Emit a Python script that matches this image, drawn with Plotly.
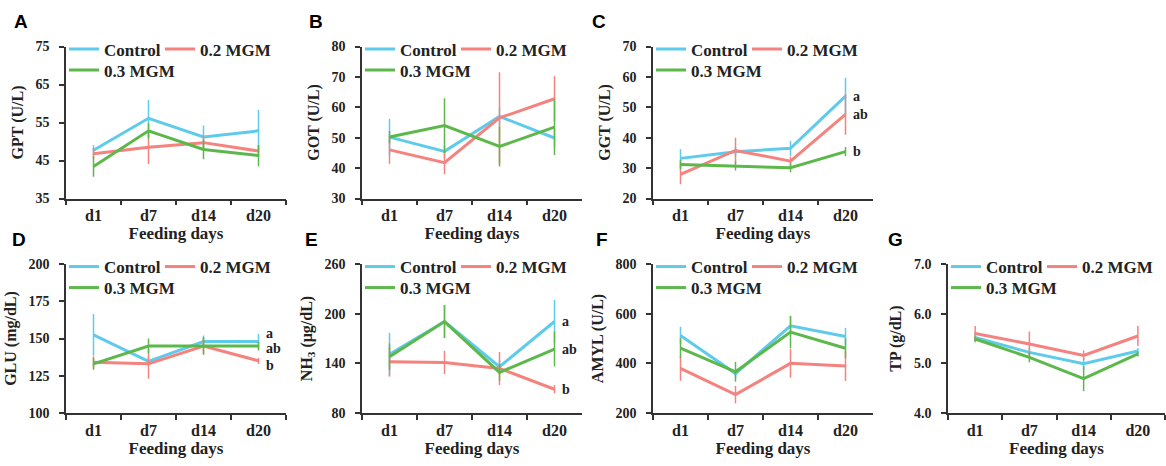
import plotly.graph_objects as go

W, H = 1166, 466

days = ["d1", "d7", "d14", "d20"]
group_names = ["Control", "0.2 MGM", "0.3 MGM"]
colors = ["#5ECBEA", "#F4827E", "#5DB84B"]

# GPT (U/L)
gpt_ctrl = [47.7, 56.1, 51.2, 52.8]
gpt_ctrl_err = [1.3, 4.8, 3.0, 5.5]
gpt_02 = [46.8, 48.5, 49.7, 47.5]
gpt_02_err = [1.5, 4.4, 2.0, 1.5]
gpt_03 = [43.4, 52.8, 47.9, 46.3]
gpt_03_err = [2.7, 2.0, 2.6, 2.8]

# GOT (U/L)
got_ctrl = [50.2, 45.5, 57.0, 49.9]
got_ctrl_err = [6.0, 2.0, 3.0, 3.0]
got_02 = [46.0, 41.8, 56.5, 62.8]
got_02_err = [4.6, 3.8, 15.0, 7.4]
got_03 = [50.2, 54.0, 47.1, 53.5]
got_03_err = [2.0, 9.0, 6.6, 9.2]

# GGT (U/L)
ggt_ctrl = [33.2, 35.4, 36.5, 53.7]
ggt_ctrl_err = [3.0, 1.5, 2.5, 6.0]
ggt_02 = [27.9, 35.8, 32.3, 47.7]
ggt_02_err = [3.2, 4.2, 1.5, 6.7]
ggt_03 = [31.2, 30.7, 30.1, 35.4]
ggt_03_err = [1.5, 1.5, 1.5, 1.5]

# GLU (mg/dL)
glu_ctrl = [152.4, 134.7, 148.0, 148.0]
glu_ctrl_err = [14.0, 3.0, 4.0, 5.0]
glu_02 = [134.0, 133.0, 145.0, 135.0]
glu_02_err = [4.0, 10.0, 5.0, 2.0]
glu_03 = [133.0, 145.0, 145.0, 145.0]
glu_03_err = [4.0, 5.0, 6.0, 3.0]

# NH3 (ug/dL)
nh3_ctrl = [150.9, 190.5, 135.9, 190.5]
nh3_ctrl_err = [26.0, 20.0, 8.0, 26.0]
nh3_02 = [142.0, 141.0, 133.8, 108.7]
nh3_02_err = [18.0, 14.0, 20.0, 5.0]
nh3_03 = [148.0, 190.5, 129.0, 157.3]
nh3_03_err = [16.0, 20.0, 10.0, 21.0]

# AMYL (U/L)
amyl_ctrl = [512, 359, 551, 508]
amyl_ctrl_err = [35, 20, 40, 35]
amyl_02 = [380, 274, 400, 389]
amyl_02_err = [50, 35, 58, 60]
amyl_03 = [461, 366, 526, 461]
amyl_03_err = [40, 40, 65, 40]

# TP (g/dL)
tp_ctrl = [5.52, 5.22, 4.99, 5.25]
tp_ctrl_err = [0.10, 0.10, 0.12, 0.06]
tp_02 = [5.60, 5.39, 5.16, 5.55]
tp_02_err = [0.15, 0.25, 0.10, 0.20]
tp_03 = [5.49, 5.12, 4.69, 5.19]
tp_03_err = [0.05, 0.10, 0.25, 0.05]

# significance letters at d20, per group (Control, 0.2 MGM, 0.3 MGM)
ggt_sig = ["a", "ab", "b"]
glu_sig = ["a", "b", "ab"]
nh3_sig = ["a", "b", "ab"]

panels = [
    dict(letter="A", title="GPT (U/L)", rng=[35, 75], dtick=10, fmt="",
         series=[(gpt_ctrl, gpt_ctrl_err), (gpt_02, gpt_02_err), (gpt_03, gpt_03_err)], sig=None),
    dict(letter="B", title="GOT (U/L)", rng=[30, 80], dtick=10, fmt="",
         series=[(got_ctrl, got_ctrl_err), (got_02, got_02_err), (got_03, got_03_err)], sig=None),
    dict(letter="C", title="GGT (U/L)", rng=[20, 70], dtick=10, fmt="",
         series=[(ggt_ctrl, ggt_ctrl_err), (ggt_02, ggt_02_err), (ggt_03, ggt_03_err)],
         sig=ggt_sig, sig_shift=[0, 0, 0]),
    dict(letter="D", title="GLU (mg/dL)", rng=[100, 200], dtick=25, fmt="",
         series=[(glu_ctrl, glu_ctrl_err), (glu_02, glu_02_err), (glu_03, glu_03_err)],
         sig=glu_sig, sig_shift=[8, -5, -3]),
    dict(letter="E", title="NH<sub>3</sub> (μg/dL)", rng=[80, 260], dtick=60, fmt="",
         series=[(nh3_ctrl, nh3_ctrl_err), (nh3_02, nh3_02_err), (nh3_03, nh3_03_err)],
         sig=nh3_sig, sig_shift=[0, 0, 0]),
    dict(letter="F", title="AMYL (U/L)", rng=[200, 800], dtick=200, fmt="",
         series=[(amyl_ctrl, amyl_ctrl_err), (amyl_02, amyl_02_err), (amyl_03, amyl_03_err)], sig=None),
    dict(letter="G", title="TP (g/dL)", rng=[4.0, 7.0], dtick=1, fmt=".1f",
         series=[(tp_ctrl, tp_ctrl_err), (tp_02, tp_02_err), (tp_03, tp_03_err)], sig=None),
]

# layout geometry (pixels)
col_px = [(66, 286), (362, 582), (653, 873), (948, 1165)]
row_px = [(46.5, 198.5), (264, 413)]
cells = [(0, 0), (0, 1), (0, 2), (1, 0), (1, 1), (1, 2), (1, 3)]
letter_px = [(21, 22), (316, 21), (599, 21), (19, 239), (311, 239), (602, 239), (895, 239)]

SERIF = "Liberation Serif, Times New Roman, serif"
SANS = "Liberation Sans, Arial, sans-serif"

fig = go.Figure()
layout = dict(
    width=W, height=H,
    margin=dict(l=0, r=0, t=0, b=0, autoexpand=False),
    paper_bgcolor="white", plot_bgcolor="white",
    showlegend=True,
    font=dict(family=SERIF, color="#222", weight="bold"),
)
annotations = []

for i, p in enumerate(panels):
    r, c = cells[i]
    k = i + 1
    sfx = "" if k == 1 else str(k)
    x0, x1 = col_px[c]
    y0, y1 = row_px[r]
    leg_a = "legend" if (2 * i + 1) == 1 else f"legend{2 * i + 1}"
    leg_b = f"legend{2 * i + 2}"
    for g, (vals, errs) in enumerate(p["series"]):
        tr = dict(
            x=days, y=vals, name=group_names[g], mode="lines",
            line=dict(color=colors[g], width=3),
            error_y=dict(type="data", array=errs, visible=True, color=colors[g], thickness=1.5, width=0),
            xaxis="x" + sfx, yaxis="y" + sfx,
            legend=leg_a if g < 2 else leg_b,
            hoverinfo="x+y+name",
        )
        if g == 0:
            tr["legendwidth"] = 51
        fig.add_trace(go.Scatter(**tr))
    layout["xaxis" + sfx] = dict(
        domain=[x0 / W, x1 / W], anchor="y" + sfx,
        type="category", categoryorder="array", categoryarray=days, range=[-0.5, 3.5],
        showline=True, linecolor="#333", linewidth=1.5, mirror=False,
        ticks="outside", tickson="boundaries", ticklen=5, tickwidth=1.5, tickcolor="#333",
        showgrid=False, zeroline=False, ticklabelstandoff=2,
        tickfont=dict(family=SERIF, size=16, color="#222", weight="bold"),
        title=dict(text="Feeding days", standoff=2, font=dict(family=SERIF, size=17, color="#222", weight="bold")),
    )
    layout["yaxis" + sfx] = dict(
        domain=[1 - y1 / H, 1 - y0 / H], anchor="x" + sfx,
        range=p["rng"], dtick=p["dtick"], tick0=p["rng"][0], tickformat=p["fmt"],
        showline=True, linecolor="#333", linewidth=1.5,
        ticks="outside", ticklen=5, tickwidth=1.5, tickcolor="#333",
        showgrid=False, zeroline=False, ticklabelstandoff=7,
        tickfont=dict(family=SERIF, size=14, color="#222", weight="bold"),
        title=dict(text=p["title"], standoff=8, font=dict(family=SERIF, size=16, color="#222", weight="bold")),
    )
    leg_common = dict(
        orientation="h", xanchor="left", yanchor="middle",
        bgcolor="rgba(0,0,0,0)", borderwidth=0,
        font=dict(family=SERIF, size=17, color="#222", weight="bold"),
        itemclick=False, itemdoubleclick=False, tracegroupgap=0,
    )
    layout[leg_a] = dict(leg_common, x=(x0 - 2) / W, y=1 - (y0 + 3) / H)
    layout[leg_b] = dict(leg_common, x=(x0 - 2) / W, y=1 - (y0 + 24) / H)

    lx, ly = letter_px[i]
    annotations.append(dict(
        text=p["letter"], xref="paper", yref="paper", x=lx / W, y=1 - ly / H,
        xanchor="center", yanchor="middle", showarrow=False,
        font=dict(family=SANS, size=19, color="black", weight="bold"),
    ))
    if p["sig"] is not None:
        for g, lab in enumerate(p["sig"]):
            annotations.append(dict(
                text=lab, xref="x" + sfx, yref="y" + sfx, x=days[-1], y=p["series"][g][0][-1],
                xanchor="left", yanchor="middle", xshift=5, yshift=p["sig_shift"][g], showarrow=False,
                font=dict(family=SERIF, size=14, color="#222", weight="bold"),
            ))

layout["annotations"] = annotations
fig.update_layout(**layout)
fig.write_html("out.html", config={"displayModeBar": False},
               post_script="document.body.style.margin='0px';")
